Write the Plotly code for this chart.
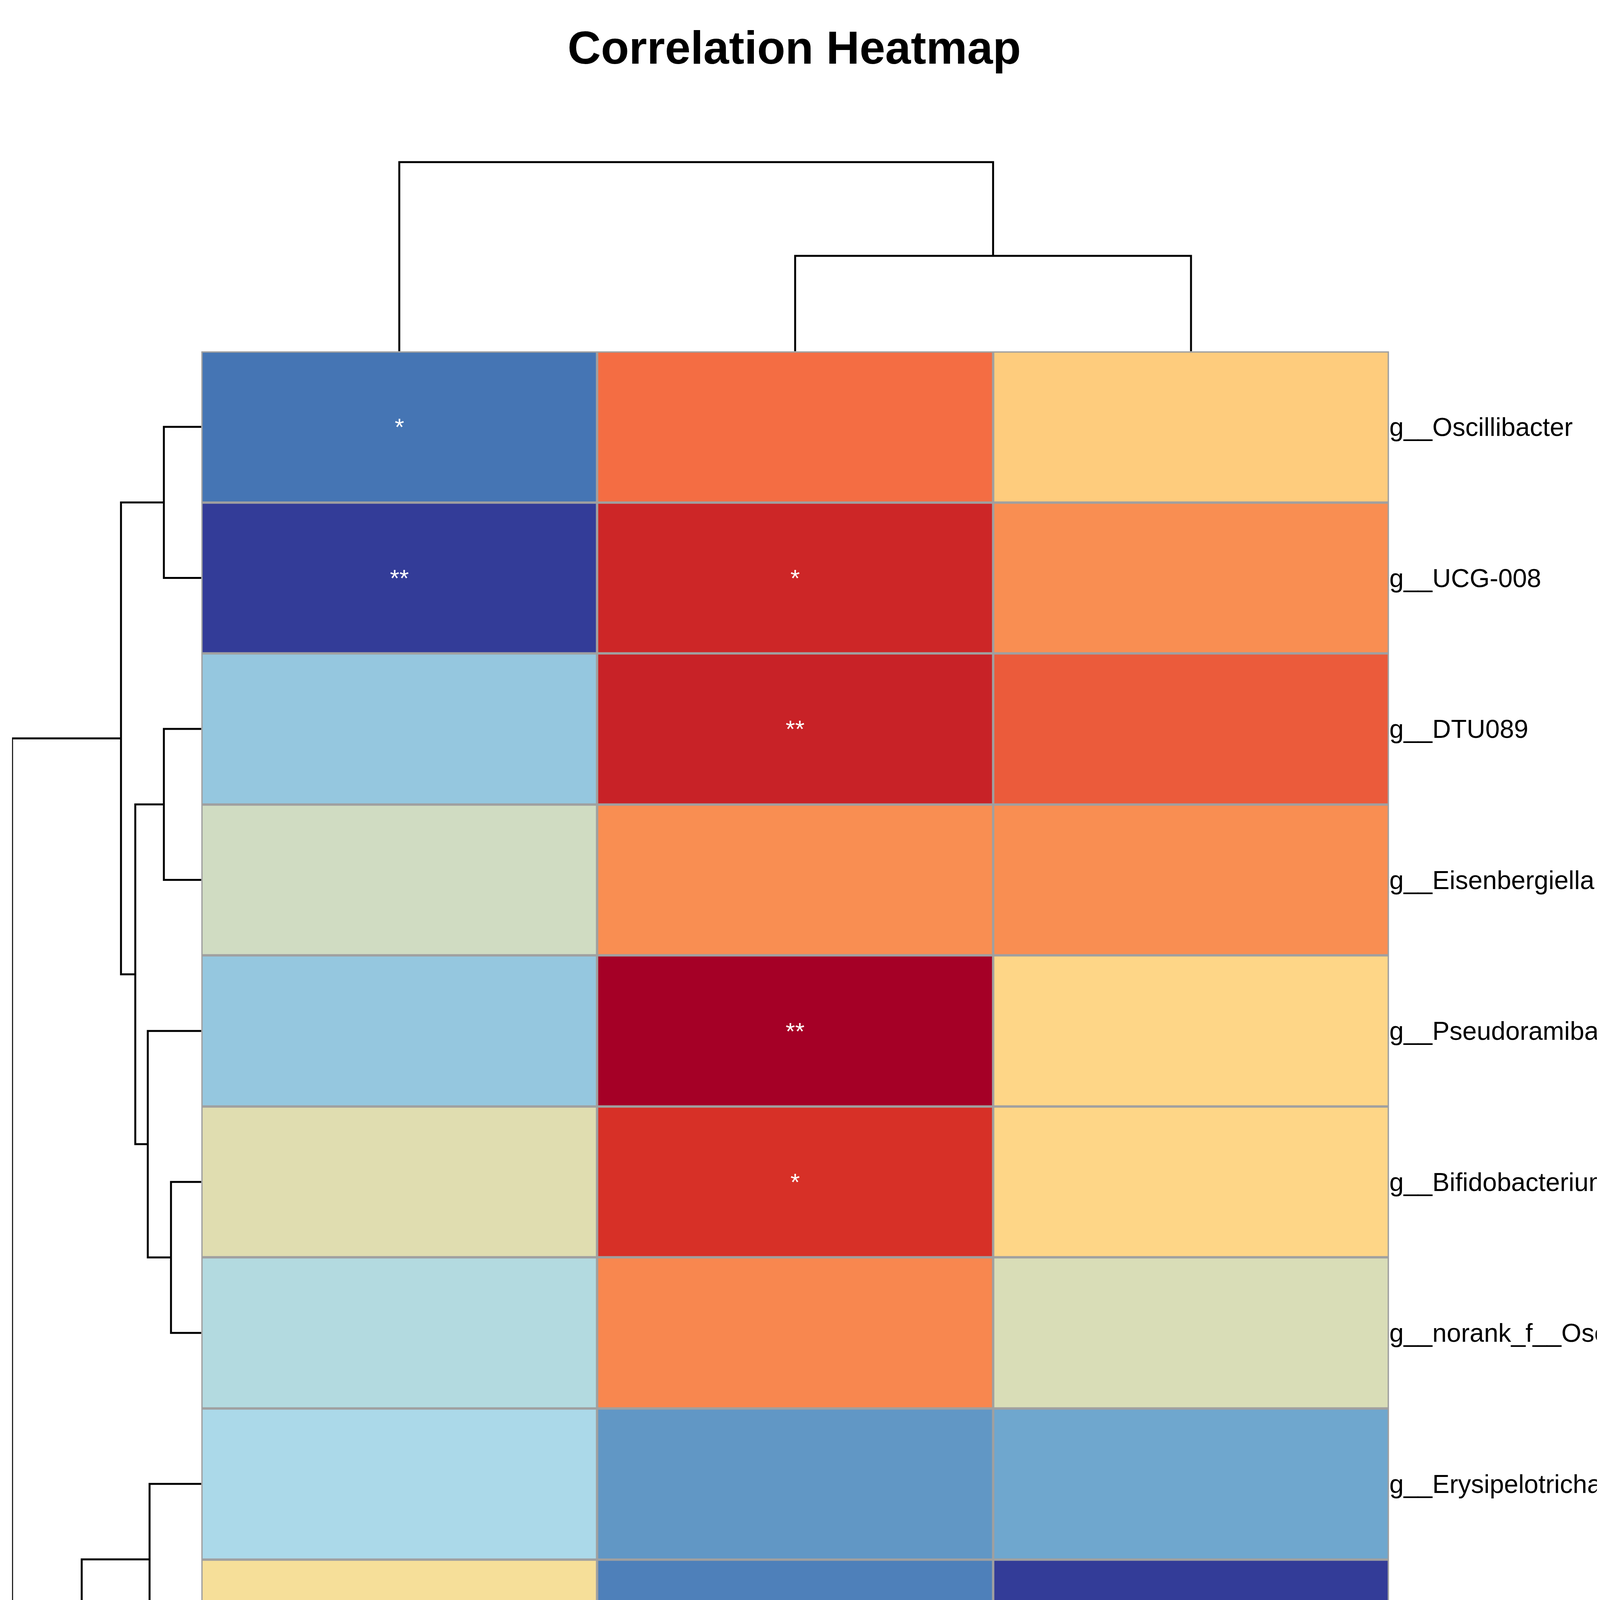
import plotly.graph_objects as go

W, H = 5669, 7087
cols = ["Age", "Group", "Sex"]
rows = ["g__Oscillibacter", "g__UCG-008", "g__DTU089", "g__Eisenbergiella",
        "g__Pseudoramibacter", "g__Bifidobacterium", "g__norank_f__Oscillospiraceae",
        "g__Erysipelotrichaceae_UCG-003", "g__Megamonas", "g__Actinomyces",
        "g__norank_f__norank_o__Saccharimonadales"]
age = [-0.15, -0.195, -0.07, -0.028, -0.07, -0.018, -0.045, -0.05, -0.005, -0.075, -0.195]
group = [0.10, 0.16, 0.165, 0.075, 0.20, 0.15, 0.08, -0.12, -0.14, -0.065, -0.012]
sex = [0.02, 0.075, 0.115, 0.075, 0.01, 0.01, -0.022, -0.105, -0.195, 0.02, -0.105]
sig_age = ["*", "**", "", "", "", "", "", "", "", "", "**"]
sig_group = ["", "*", "**", "", "**", "*", "", "", "*", "", ""]
sig_sex = ["", "", "", "", "", "", "", "", "**", "", ""]

# linkage: (left node, right node, height); leaves 0..n-1, merged nodes n, n+1, ...
row_link = [(0, 1, 21), (2, 3, 21), (5, 6, 17), (4, 13, 30), (12, 14, 37),
            (11, 15, 45), (7, 8, 29), (9, 10, 48), (17, 18, 67), (16, 19, 106)]
col_link = [(1, 2, 53), (0, 3, 105)]

cscale = [[0, "#313695"], [0.125, "#4575B4"], [0.25, "#74ADD1"], [0.375, "#ABD9E9"],
          [0.5, "#FEE090"], [0.625, "#FDAE61"], [0.75, "#F46D43"], [0.875, "#D73027"],
          [1, "#A50026"]]

def dendro(link, n):
    pos = {i: float(i) for i in range(n)}
    hgt = {i: 0.0 for i in range(n)}
    segs = []
    for k, (a, b, h) in enumerate(link):
        segs.append(([pos[a], pos[a], pos[b], pos[b]], [hgt[a], h, h, hgt[b]]))
        pos[n + k] = (pos[a] + pos[b]) / 2
        hgt[n + k] = h
    return segs

def px(x): return x / 1240
def py(y): return 1 - y / 1550

hx = [px(111), px(776)]
hy = [py(1125), py(195)]

fig = go.Figure()
z = [[age[i], group[i], sex[i]] for i in range(len(rows))]
txt = [[sig_age[i], sig_group[i], sig_sex[i]] for i in range(len(rows))]
fig.add_trace(go.Heatmap(
    z=z, x=list(range(3)), y=list(range(len(rows))), text=txt,
    texttemplate="%{text}", textfont=dict(color="white", size=62),
    colorscale=cscale, zmin=-0.2, zmax=0.2,
    xgap=6, ygap=6,
    colorbar=dict(x=px(1130), xanchor="left", y=py(345), yanchor="middle",
                  len=1371, lenmode="pixels", thickness=91, outlinewidth=0,
                  tickvals=[-0.2, -0.1, 0, 0.1, 0.2], ticktext=["-0.2", "-0.1", "0", "0.1", "0.2"],
                  ticks="", tickfont=dict(size=86, color="black")),
    xaxis="x", yaxis="y"))

for xs, ys in dendro(row_link, len(rows)):
    fig.add_trace(go.Scatter(x=ys, y=xs, mode="lines", line=dict(color="black", width=5),
                             xaxis="x2", yaxis="y2", showlegend=False, hoverinfo="skip"))
for xs, ys in dendro(col_link, len(cols)):
    fig.add_trace(go.Scatter(x=xs, y=ys, mode="lines", line=dict(color="black", width=5),
                             xaxis="x3", yaxis="y3", showlegend=False, hoverinfo="skip"))

fig.add_shape(type="rect", xref="x", yref="y", x0=-0.5, x1=2.5, y0=-0.5, y1=10.5,
              fillcolor="#a0a0a0", line=dict(width=0), layer="below")
fig.add_shape(type="rect", xref="x", yref="y", x0=-0.5, x1=2.5, y0=-0.5, y1=10.5,
              line=dict(color="#a0a0a0", width=6))

fig.update_layout(
    width=W, height=H, margin=dict(l=0, r=0, t=0, b=0),
    paper_bgcolor="white", plot_bgcolor="white",
    font=dict(family="Liberation Sans, Arial", color="black"),
    showlegend=False,
    xaxis=dict(domain=hx, range=[-0.5, 2.5], tickvals=[0, 1, 2], ticktext=cols,
               tickangle=-90, tickfont=dict(size=66), showgrid=False, zeroline=False,
               ticks="", ticklen=0),
    yaxis=dict(domain=hy, range=[10.5, -0.5], tickvals=list(range(len(rows))), ticktext=rows,
               side="right", tickfont=dict(size=66), showgrid=False, zeroline=False, ticks=""),
    xaxis2=dict(domain=[px(5), px(111)], range=[106, 0], visible=False, anchor="y2"),
    yaxis2=dict(domain=hy, range=[10.5, -0.5], visible=False, anchor="x2"),
    xaxis3=dict(domain=hx, range=[-0.5, 2.5], visible=False, anchor="y3"),
    yaxis3=dict(domain=[py(195), py(88)], range=[0, 106], visible=False, anchor="x3"),
)

fig.add_annotation(text="<b>Correlation Heatmap</b>", xref="paper", yref="paper",
                   x=px(443), y=py(25), xanchor="center", yanchor="middle",
                   showarrow=False, font=dict(size=118))
lines = ["<b>Supplementary Figure 2</b> Correlation values were indicated by color. The",
         "significance was indicated by symbol. The correlation of age, sex and different",
         "bacteria was analyzed between groups."]
for yy, t in zip([1268, 1327, 1385], lines):
    fig.add_annotation(text=t, xref="paper", yref="paper", x=px(48), y=py(yy),
                       xanchor="left", yanchor="middle", showarrow=False, font=dict(size=146))

fig.write_html("out.html")
